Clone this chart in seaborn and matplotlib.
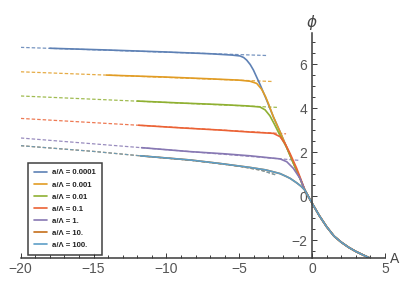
import matplotlib
matplotlib.use("Agg")
import matplotlib.pyplot as plt
from matplotlib.lines import Line2D
from matplotlib.ticker import MultipleLocator
import seaborn as sns
import pandas as pd

sns.set_style("white")
plt.rcParams['font.family'] = ['Liberation Sans', 'DejaVu Sans']

# ---------------- data ----------------
labels = ["a/\u039b = 0.0001", "a/\u039b = 0.001", "a/\u039b = 0.01", "a/\u039b = 0.1",
          "a/\u039b = 1.", "a/\u039b = 10.", "a/\u039b = 100."]
colors = ["#5E81B5", "#E19C24", "#8FB032", "#EB6235", "#8778B3", "#C56E1A", "#5D9EC7"]

# shared steep part and right tail (all curves merge)
env_A = [-4.03, -3.58, -3.12, -2.66, -2.2, -1.74, -1.3, -0.83]
env_phi = [5.73, 5.08, 4.36, 3.6, 2.92, 2.2, 1.52, 0.8]
tail_A = [-0.5, 0.0, 0.5, 1.0, 1.5, 2.0, 2.5, 3.0, 3.5, 4.0]
tail_phi = [0.27, -0.33, -0.9, -1.4, -1.82, -2.1, -2.33, -2.52, -2.68, -2.83]

s1_A = [-18.0, -14, -10, -7, -5.5, -4.95, -4.7, -4.49, -4.25]
s1_phi = [6.72, 6.64, 6.55, 6.47, 6.41, 6.37, 6.3, 6.18, 5.98]
s2_A = [-14.1, -10, -7, -5, -4.26, -3.8, -3.46, -3.2, -3.0]
s2_phi = [5.5, 5.41, 5.33, 5.27, 5.22, 5.12, 4.85, 4.52, 4.2]
s3_A = [-12.0, -9, -6.3, -4.5, -3.58, -3.23, -2.9, -2.6, -2.2]
s3_phi = [4.32, 4.23, 4.16, 4.1, 4.05, 3.92, 3.65, 3.28, 2.75]
s4_A = [-11.9, -9, -6.3, -4.26, -2.66, -2.2, -1.86, -1.52, -1.06, -0.75]
s4_phi = [3.22, 3.1, 3.0, 2.91, 2.85, 2.7, 2.39, 1.94, 1.26, 0.72]
s5_A = [-11.7, -8.37, -6, -4.26, -2.2, -1.74, -1.29, -0.83]
s5_phi = [2.2, 2.02, 1.92, 1.83, 1.69, 1.56, 1.26, 0.8]
s6_A = [-11.8, -8.37, -6.32, -4.95, -4.26, -3.2, -2.66, -2.2, -1.74, -1.5, -1.06, -0.75]
s6_phi = [1.83, 1.64, 1.48, 1.36, 1.3, 1.19, 1.1, 1.02, 0.88, 0.8, 0.6, 0.44]
s7_A = s6_A
s7_phi = s6_phi

# dashed asymptotes
d1_A, d1_phi = [-20, -3.1], [6.76, 6.39]
d2_A, d2_phi = [-20, -2.77], [5.65, 5.21]
d3_A, d3_phi = [-20, -2.32], [4.55, 4.03]
d4_A, d4_phi = [-20, -1.79], [3.53, 2.83]
d5_A, d5_phi = [-20, -0.83], [2.64, 1.62]
d6_A = [-20, -15, -11.8, -8.37, -6.32, -4.95, -3.5, -2.43]
d6_phi = [2.29, 2.03, 1.83, 1.63, 1.47, 1.35, 1.17, 0.95]
d7_A, d7_phi = d6_A, d6_phi

x_major = [-20, -15, -10, -5, 0, 5]
y_major = [-2, 0, 2, 4, 6]

# ---------------- build frames ----------------
solid_parts = [
    (s1_A + env_A + tail_A, s1_phi + env_phi + tail_phi),
    (s2_A + env_A[3:] + tail_A, s2_phi + env_phi[3:] + tail_phi),
    (s3_A + env_A[5:] + tail_A, s3_phi + env_phi[5:] + tail_phi),
    (s4_A + tail_A, s4_phi + tail_phi),
    (s5_A + tail_A, s5_phi + tail_phi),
    (s6_A + tail_A, s6_phi + tail_phi),
    (s7_A + tail_A, s7_phi + tail_phi),
]
dash_parts = [(d1_A, d1_phi), (d2_A, d2_phi), (d3_A, d3_phi), (d4_A, d4_phi),
              (d5_A, d5_phi), (d6_A, d6_phi), (d7_A, d7_phi)]

rows = []
for lab, (a, p) in zip(labels, solid_parts):
    for i, (x, y) in enumerate(zip(a, p)):
        rows.append({"A": x, "phi": y, "series": lab, "order": i})
solid = pd.DataFrame(rows)
rows = []
for lab, (a, p) in zip(labels, dash_parts):
    for i, (x, y) in enumerate(zip(a, p)):
        rows.append({"A": x, "phi": y, "series": lab, "order": i})
dashed = pd.DataFrame(rows)

# ---------------- plot ----------------
fig = plt.figure(figsize=(4.07, 2.91), dpi=100)
ax = fig.add_axes([20.7 / 407, (291 - 258.3) / 291, (385 - 20.7) / 407, (258.3 - 33.3) / 291])

pal = dict(zip(labels, colors))
sns.lineplot(data=dashed, x="A", y="phi", hue="series", hue_order=labels, palette=pal,
             sort=False, estimator=None, units="series", ax=ax, legend=False,
             linewidth=0.9, alpha=0.85, dashes=False)
for ln in ax.lines:
    ln.set_linestyle((0, (2.8, 1.6)))
sns.lineplot(data=solid, x="A", y="phi", hue="series", hue_order=labels, palette=pal,
             sort=False, estimator=None, units="series", ax=ax, legend=False,
             linewidth=1.2)

ax.set_xlim(-20, 5)
ax.set_ylim(-2.83, 7.4)
ax.set_xlabel("")
ax.set_ylabel("")

axis_col = "#3a3a3a"
for s in ["top", "right"]:
    ax.spines[s].set_visible(False)
ax.spines["left"].set_position(("data", 0))
for s in ["left", "bottom"]:
    ax.spines[s].set_color(axis_col)
    ax.spines[s].set_linewidth(1.1)

ax.set_xticks(x_major)
ax.set_yticks(y_major)
ax.xaxis.set_minor_locator(MultipleLocator(1))
ax.yaxis.set_minor_locator(MultipleLocator(0.5))
ax.tick_params(which="both", direction="in", color=axis_col, width=0.7,
               bottom=True, left=True, top=False, right=False)
ax.tick_params(which="major", length=3.5, labelsize=10, labelcolor="#555555")
ax.tick_params(which="minor", length=2.0)
ax.tick_params(axis="x", pad=3.0)
ax.tick_params(axis="y", pad=3.5)
ax.set_xticklabels([str(v).replace("-", "\u2212") for v in x_major])
ax.set_yticklabels([str(v).replace("-", "\u2212") for v in y_major])

fig.text(395 / 407, 1 - 259 / 291, "A", fontsize=10, color="#444444", ha="center", va="center")
fig.text(312 / 407, 1 - 22 / 291, "\u03d5", fontsize=11, color="#444444", ha="center",
         va="center", fontstyle="italic", family=["DejaVu Sans"])

handles = [Line2D([0], [0], color=c, lw=1.2) for c in colors]
leg = ax.legend(handles, labels, loc="lower left",
                bbox_to_anchor=(27.7 / 407, (291 - 255) / 291), bbox_transform=fig.transFigure,
                borderaxespad=0, frameon=True, fancybox=False, edgecolor="#111111",
                prop={"size": 5.6, "weight": "bold", "family": "Liberation Sans"},
                handlelength=1.7, handletextpad=0.7, labelspacing=0.6, borderpad=0.75)
leg.get_frame().set_linewidth(1.1)
for t in leg.get_texts():
    t.set_color("#222222")

fig.savefig("out.png", dpi=100)
